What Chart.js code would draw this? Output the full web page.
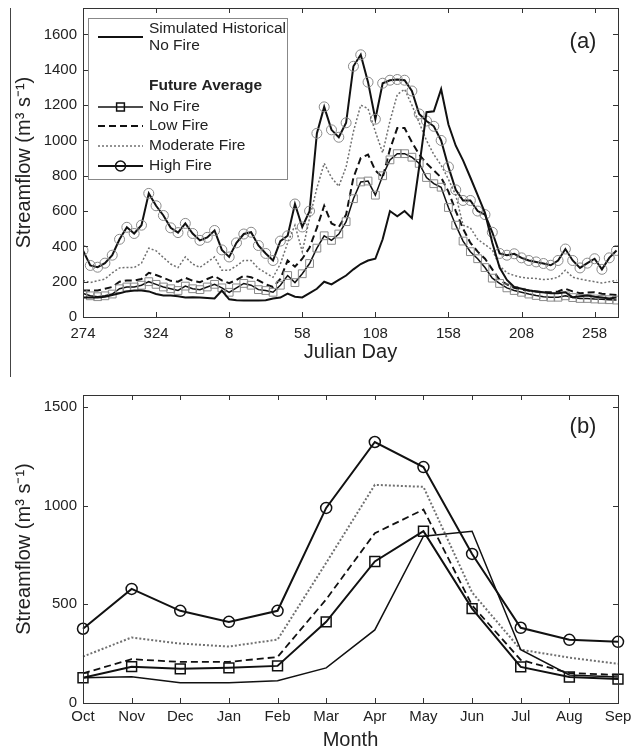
<!DOCTYPE html>
<html>
<head>
<meta charset="utf-8">
<script src="https://cdn.jsdelivr.net/npm/chart.js@4.4.1/dist/chart.umd.min.js"></script>
<style>
  body { margin: 0; background: #fff; }
  #wrap { position: relative; width: 633px; height: 752px; }
  canvas { position: absolute; left: 0; }
  #chartA { top: 0; }
  #chartB { top: 378px; }
  #edge { position: absolute; left: 10px; top: 8px; width: 1px; height: 369px; background: #444; }
</style>
</head>
<body>
<div id="wrap">
  <canvas id="chartA" width="633" height="378"></canvas>
  <canvas id="chartB" width="633" height="374"></canvas>
  <div id="edge"></div>
</div>
<script>
// -------------------- DATA: panel (a), daily flow sampled every 5 days --------------------
const days = [0, 5, 10, 15, 20, 25, 30, 35, 40, 45, 50, 55, 60, 65, 70, 75, 80, 85, 90, 95,
  100, 105, 110, 115, 120, 125, 130, 135, 140, 145, 150, 155, 160, 165, 170, 175, 180, 185, 190, 195,
  200, 205, 210, 215, 220, 225, 230, 235, 240, 245, 250, 255, 260, 265, 270, 275, 280, 285, 290, 295,
  300, 305, 310, 315, 320, 325, 330, 335, 340, 345, 350, 355, 360, 365];

const dayTicks = [0, 50, 100, 150, 200, 250, 300, 350];
const dayTickLabels = ["274", "324", "8", "58", "108", "158", "208", "258"];
const flowTicksA = [0, 200, 400, 600, 800, 1000, 1200, 1400, 1600];

const histA = [111, 111, 111, 115, 125, 135, 145, 150, 150, 145,
  130, 122, 122, 118, 111, 112, 111, 108, 105, 150,
  100, 95, 94, 94, 94, 95, 105, 110, 133, 115,
  111, 135, 160, 200, 185, 210, 235, 270, 300, 320,
  330, 440, 600, 570, 600, 560, 850, 1160, 1165, 1290,
  1090, 970, 887, 790, 690, 590, 420, 280, 210, 170,
  160, 150, 145, 140, 135, 135, 140, 112, 118, 122,
  115, 110, 105, 111];

const noFireA = [133, 120, 115, 120, 130, 160, 170, 170, 180, 200,
  185, 170, 160, 150, 175, 160, 155, 170, 185, 165,
  140, 165, 190, 180, 155, 150, 140, 180, 235, 195,
  245, 303, 390, 460, 434, 470, 540, 670, 765, 770,
  690, 800, 890, 925, 925, 905, 870, 790, 755, 735,
  620, 520, 430, 370, 330, 280, 220, 190, 165, 150,
  140, 130, 122, 115, 112, 112, 120, 110, 105, 105,
  102, 100, 98, 96];

const lowA = [150, 150, 150, 160, 170, 200, 207, 207, 215, 250,
  238, 222, 205, 200, 222, 205, 197, 215, 232, 207,
  192, 210, 233, 225, 207, 185, 170, 215, 320, 285,
  330, 394, 505, 630, 530, 510, 580, 790, 900, 920,
  830, 790, 950, 1070, 1070, 990, 920, 870, 830, 790,
  710, 600, 500, 420, 370, 330, 270, 210, 185, 165,
  155, 150, 145, 140, 140, 145, 160, 145, 135, 138,
  140, 132, 128, 125];

const modA = [207, 195, 205, 215, 250, 278, 281, 280, 305, 390,
  375, 337, 300, 280, 340, 300, 281, 310, 340, 265,
  264, 290, 320, 320, 275, 250, 225, 300, 420, 520,
  370, 560, 730, 870, 790, 740, 850, 1050, 1200, 1180,
  1050, 930, 1110, 1260, 1290, 1200, 1100, 1000, 920, 860,
  780, 690, 520, 505, 440, 410, 380, 290, 250, 235,
  225, 220, 218, 212, 215, 225, 265, 225, 215, 207,
  200, 192, 200, 207];

const highA = [377, 292, 282, 305, 350, 440, 508, 473, 520, 700,
  630, 575, 505, 478, 530, 473, 434, 451, 490, 380,
  340, 420, 470, 480, 405, 360, 320, 430, 460, 640,
  510, 600, 1040, 1190, 1060, 1018, 1100, 1420, 1485, 1330,
  1120, 1324, 1341, 1345, 1341, 1280, 1150, 1110, 1080, 1000,
  850, 720, 660, 660, 600, 580, 480, 360, 350, 358,
  335, 320, 312, 303, 293, 320, 385, 320, 278, 305,
  330, 270, 335, 377];

// -------------------- DATA: panel (b), monthly means --------------------
const months = ["Oct", "Nov", "Dec", "Jan", "Feb", "Mar", "Apr", "May", "Jun", "Jul", "Aug", "Sep"];
const flowTicksB = [0, 500, 1000, 1500];

const histB = [128, 133, 102, 102, 113, 178, 370, 845, 870, 270, 142, 132];
const noFireB = [128, 184, 173, 178, 188, 411, 717, 870, 478, 183, 132, 121];
const lowB = [150, 222, 208, 208, 233, 525, 860, 980, 495, 218, 152, 142];
const modB = [235, 332, 301, 286, 321, 710, 1105, 1095, 560, 270, 230, 199];
const highB = [376, 578, 467, 411, 467, 988, 1322, 1195, 755, 381, 320, 310];

// -------------------- HELPERS --------------------
const FONT = "'Liberation Sans', Arial, Helvetica, sans-serif";
const INK = "#222";

function toPoints(values) {
  return values.map((v, i) => ({ x: days[i], y: v }));
}

function drawMarker(ctx, style, x, y, r) {
  ctx.beginPath();
  if (style === "rect") {
    const h = r * Math.SQRT1_2;
    ctx.rect(x - h, y - h, 2 * h, 2 * h);
  } else {
    ctx.arc(x, y, r, 0, Math.PI * 2);
  }
  ctx.stroke();
}

// box with inward ticks on all four sides, plus the panel tag
function framePlugin(tag, tagY) {
  return {
    id: "frame",
    afterDraw(chart) {
      const { ctx, chartArea: a, scales: { x, y } } = chart;
      ctx.save();
      ctx.strokeStyle = "#333";
      ctx.lineWidth = 1;
      ctx.setLineDash([]);
      ctx.strokeRect(a.left + 0.5, a.top + 0.5, a.right - a.left, a.bottom - a.top);

      ctx.beginPath();
      x.ticks.forEach((t) => {
        const px = Math.round(x.getPixelForValue(t.value)) + 0.5;
        ctx.moveTo(px, a.bottom); ctx.lineTo(px, a.bottom - 5);
        ctx.moveTo(px, a.top); ctx.lineTo(px, a.top + 5);
      });
      y.ticks.forEach((t) => {
        const py = Math.round(y.getPixelForValue(t.value)) + 0.5;
        ctx.moveTo(a.left, py); ctx.lineTo(a.left + 5, py);
        ctx.moveTo(a.right, py); ctx.lineTo(a.right - 5, py);
      });
      ctx.stroke();

      ctx.fillStyle = INK;
      ctx.font = `22px ${FONT}`;
      ctx.textAlign = "center";
      ctx.textBaseline = "middle";
      ctx.fillText(tag, 583, tagY);
      ctx.restore();
    }
  };
}

// legend of panel (a), laid out like the original figure
const legendA = {
  id: "legendA",
  afterDraw(chart) {
    const ctx = chart.ctx;
    const ds = chart.data.datasets;
    ctx.save();
    ctx.fillStyle = "#fff";
    ctx.fillRect(88, 18, 200, 161);
    ctx.strokeStyle = "#888";
    ctx.lineWidth = 1;
    ctx.strokeRect(88.5, 18.5, 199, 161);

    const rows = [
      { ds: ds[0], y: 37 },
      { ds: ds[1], y: 107 },
      { ds: ds[2], y: 126 },
      { ds: ds[3], y: 146 },
      { ds: ds[4], y: 166 }
    ];
    rows.forEach((row) => {
      const d = row.ds;
      ctx.strokeStyle = d.borderColor;
      ctx.lineWidth = d.borderWidth;
      ctx.setLineDash(d.borderDash || []);
      ctx.beginPath();
      ctx.moveTo(98, row.y);
      ctx.lineTo(143, row.y);
      ctx.stroke();
      ctx.setLineDash([]);
      if (d.pointRadius) {
        ctx.strokeStyle = "#111";
        ctx.lineWidth = 1.5;
        drawMarker(ctx, d.pointStyle, 120.5, row.y, d.pointRadius);
      }
    });

    ctx.fillStyle = INK;
    ctx.textAlign = "left";
    ctx.textBaseline = "middle";
    ctx.font = `15.5px ${FONT}`;
    ctx.fillText("Simulated Historical", 149, 29);
    ctx.fillText("No Fire", 149, 46);
    ctx.fillText("No Fire", 149, 107);
    ctx.fillText("Low Fire", 149, 126);
    ctx.fillText("Moderate Fire", 149, 146);
    ctx.fillText("High Fire", 149, 166);
    ctx.font = `bold 15.5px ${FONT}`;
    ctx.fillText("Future Average", 149, 86);
    ctx.restore();
  }
};

function yAxis(max, ticks) {
  return {
    min: 0,
    max: max,
    afterBuildTicks: (s) => { s.ticks = ticks.map((v) => ({ value: v })); },
    afterFit: (s) => { s.width = 83; s.paddingTop = 0; s.paddingBottom = 0; },
    grid: { display: false, drawTicks: false },
    border: { display: false },
    ticks: { color: INK, font: { family: FONT, size: 15 }, padding: 6, callback: (v) => String(v) },
    title: {
      display: true,
      text: "Streamflow (m³ s⁻¹)",
      color: INK,
      font: { family: FONT, size: 20 },
      padding: { top: 12 }
    }
  };
}

// -------------------- PANEL (a) --------------------
new Chart(document.getElementById("chartA"), {
  type: "line",
  data: {
    datasets: [
      { label: "Simulated Historical No Fire", data: toPoints(histA), borderColor: "#111", borderWidth: 2, pointRadius: 0 },
      {
        label: "No Fire", data: toPoints(noFireA), borderColor: "#111", borderWidth: 1.5,
        pointStyle: "rect", pointRadius: 5.5, pointBorderColor: "#8a8a8a", pointBorderWidth: 1,
        pointBackgroundColor: "rgba(0,0,0,0)"
      },
      { label: "Low Fire", data: toPoints(lowA), borderColor: "#111", borderWidth: 2, borderDash: [7, 4], pointRadius: 0 },
      { label: "Moderate Fire", data: toPoints(modA), borderColor: "#707070", borderWidth: 1.5, borderDash: [2, 2], pointRadius: 0 },
      {
        label: "High Fire", data: toPoints(highA), borderColor: "#111", borderWidth: 2,
        pointStyle: "circle", pointRadius: 5, pointBorderColor: "#8a8a8a", pointBorderWidth: 1,
        pointBackgroundColor: "rgba(0,0,0,0)"
      }
    ]
  },
  options: {
    responsive: false,
    animation: false,
    devicePixelRatio: 1,
    layout: { padding: { top: 8, right: 15, left: 0, bottom: 0 } },
    plugins: { legend: { display: false }, tooltip: { enabled: false } },
    scales: {
      x: {
        type: "linear",
        min: 0,
        max: 366,
        afterBuildTicks: (s) => { s.ticks = dayTicks.map((v) => ({ value: v })); },
        afterFit: (s) => { s.height = 61; s.paddingLeft = 0; s.paddingRight = 0; },
        grid: { display: false, drawTicks: false },
        border: { display: false },
        ticks: {
          color: INK, font: { family: FONT, size: 15 }, padding: 8,
          maxRotation: 0, autoSkip: false,
          callback: (v, i) => dayTickLabels[i]
        },
        title: { display: true, text: "Julian Day", color: INK, font: { family: FONT, size: 20 }, padding: { bottom: 14 } }
      },
      y: yAxis(1750, flowTicksA)
    }
  },
  plugins: [framePlugin("(a)", 42), legendA]
});

// -------------------- PANEL (b) --------------------
new Chart(document.getElementById("chartB"), {
  type: "line",
  data: {
    labels: months,
    datasets: [
      { label: "Simulated Historical No Fire", data: histB, borderColor: "#111", borderWidth: 1.5, pointRadius: 0 },
      {
        label: "No Fire", data: noFireB, borderColor: "#111", borderWidth: 2,
        pointStyle: "rect", pointRadius: 7, pointBorderColor: "#111", pointBorderWidth: 1.5,
        pointBackgroundColor: "rgba(0,0,0,0)"
      },
      { label: "Low Fire", data: lowB, borderColor: "#111", borderWidth: 1.8, borderDash: [7, 4], pointRadius: 0 },
      { label: "Moderate Fire", data: modB, borderColor: "#707070", borderWidth: 2, borderDash: [2, 2], pointRadius: 0 },
      {
        label: "High Fire", data: highB, borderColor: "#111", borderWidth: 2,
        pointStyle: "circle", pointRadius: 5.5, pointBorderColor: "#111", pointBorderWidth: 1.5,
        pointBackgroundColor: "rgba(0,0,0,0)"
      }
    ]
  },
  options: {
    responsive: false,
    animation: false,
    devicePixelRatio: 1,
    layout: { padding: { top: 17, right: 15, left: 0, bottom: 0 } },
    plugins: { legend: { display: false }, tooltip: { enabled: false } },
    scales: {
      x: {
        type: "category",
        offset: false,
        afterFit: (s) => { s.height = 49; s.paddingLeft = 0; s.paddingRight = 0; },
        grid: { display: false, drawTicks: false, offset: false },
        border: { display: false },
        ticks: { color: INK, font: { family: FONT, size: 15 }, padding: 5, maxRotation: 0, autoSkip: false },
        title: { display: true, text: "Month", color: INK, font: { family: FONT, size: 20 }, padding: { bottom: 0 } }
      },
      y: yAxis(1560, flowTicksB)
    }
  },
  plugins: [framePlugin("(b)", 49)]
});
</script>
</body>
</html>
